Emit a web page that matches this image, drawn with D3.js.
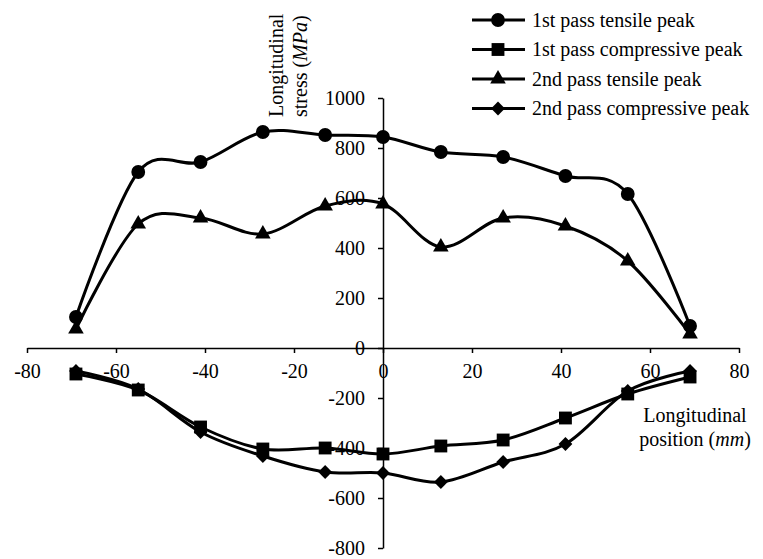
<!DOCTYPE html>
<html>
<head>
<meta charset="utf-8">
<script src="https://cdn.jsdelivr.net/npm/d3@7"></script>
<style>
  body { margin: 0; background: #fff; }
  svg { display: block; }
  text { font-family: "Liberation Serif", "Times New Roman", serif; fill: #000; }
</style>
</head>
<body>
<div class="box"></div>
<script>
const positions = [-69, -55, -41, -27, -13, 0, 13, 27, 41, 55, 69]
const tensile1 = [124, 704, 744, 864, 852, 844, 784, 764, 688, 616, 88]
const compressive1 = [-104, -168, -316, -404, -400, -424, -392, -368, -280, -184, -116]
const tensile2 = [76, 496, 520, 456, 568, 576, 404, 520, 488, 348, 56]
const compressive2 = [-92, -164, -336, -432, -496, -500, -536, -456, -384, -172, -92]
const seriesNames = [
    '1st pass tensile peak', '1st pass compressive peak',
    '2nd pass tensile peak', '2nd pass compressive peak'
]
const xTicks = [-80, -60, -40, -20, 0, 20, 40, 60, 80]
const yTicks = [-800, -600, -400, -200, 0, 200, 400, 600, 800, 1000]

const W = 763, H = 559

let svg = d3.select('.box').append('svg')
    .attr('width', W)
    .attr('height', H)

let x = d3.scaleLinear().domain([-80, 80]).range([27, 739])
let y = d3.scaleLinear().domain([-800, 1000]).range([548, 98])

// marker shapes per series
let sym = [
    d3.symbol().type(d3.symbolCircle).size(150),
    d3.symbol().type(d3.symbolSquare).size(165),
    d3.symbol().type(d3.symbolTriangle).size(105),
    d3.symbol().type(d3.symbolSquare).size(95)
]
let rot = [0, 0, 0, 45]

let allSeries = [tensile1, compressive1, tensile2, compressive2]

// axes
let xAxis = svg.append('g')
    .attr('transform', `translate(0,${y(0)})`)
    .call(d3.axisBottom(x).tickValues(xTicks).tickSize(5).tickSizeOuter(0).tickFormat(d3.format('d')))
xAxis.select('.domain').attr('stroke', '#000').attr('stroke-width', 1.5)
xAxis.selectAll('.tick line').attr('stroke', '#000').attr('stroke-width', 1.5)
xAxis.selectAll('.tick text')
    .attr('y', 16)
    .style('font-size', '20px')
    .style('font-family', '"Liberation Serif", serif')
    .text(d => d < 0 ? '-' + Math.abs(d) : d)

let yAxis = svg.append('g')
    .attr('transform', `translate(${x(0)},0)`)
    .call(d3.axisLeft(y).tickValues(yTicks).tickSize(5).tickSizeOuter(0))
yAxis.select('.domain').attr('stroke', '#000').attr('stroke-width', 1.5)
yAxis.selectAll('.tick line').attr('stroke', '#000').attr('stroke-width', 1.5)
yAxis.selectAll('.tick text')
    .attr('x', -18)
    .style('font-size', '20px')
    .style('font-family', '"Liberation Serif", serif')
    .text(d => d < 0 ? '-' + Math.abs(d) : d)

// series lines
let line = d3.line()
    .x((d, i) => x(positions[i]))
    .y(d => y(d))
    .curve(d3.curveCardinal.tension(0))

allSeries.forEach((s, k) => {
    svg.append('path')
        .datum(s)
        .attr('d', line)
        .attr('fill', 'none')
        .attr('stroke', '#000')
        .attr('stroke-width', 3)
})
allSeries.forEach((s, k) => {
    svg.append('g').selectAll('path')
        .data(s)
        .join('path')
        .attr('d', sym[k])
        .attr('transform', (d, i) => `translate(${x(positions[i])},${y(d)}) rotate(${rot[k]})`)
        .attr('fill', '#000')
})

// axis titles
let yt = svg.append('text')
    .attr('transform', 'translate(283,117) rotate(-90)')
    .style('font-size', '20px')
yt.append('tspan').attr('x', 0).attr('y', 0).text('Longitudinal')
let yt2 = yt.append('tspan').attr('x', 0).attr('y', 24).text('stress (')
yt2.append('tspan').style('font-style', 'italic').text('MPa')
yt.append('tspan').text(')')

let xt = svg.append('text')
    .attr('text-anchor', 'middle')
    .style('font-size', '20px')
xt.append('tspan').attr('x', 695).attr('y', 422).text('Longitudinal')
xt.append('tspan').attr('x', 695).attr('y', 446).text('position (')
xt.append('tspan').style('font-style', 'italic').text('mm')
xt.append('tspan').text(')')

// legend
let leg = svg.append('g')
seriesNames.forEach((name, k) => {
    let cy = 20 + k * 29.5
    leg.append('line')
        .attr('x1', 472).attr('x2', 525)
        .attr('y1', cy).attr('y2', cy)
        .attr('stroke', '#000').attr('stroke-width', 3)
    leg.append('path')
        .attr('d', sym[k])
        .attr('transform', `translate(498,${cy}) rotate(${rot[k]})`)
        .attr('fill', '#000')
    leg.append('text')
        .attr('x', 532).attr('y', cy)
        .attr('dy', '0.33em')
        .style('font-size', '20px')
        .text(name)
})
</script>
</body>
</html>
